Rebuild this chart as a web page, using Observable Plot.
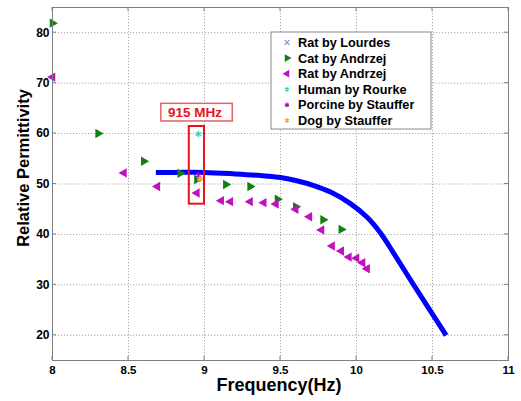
<!DOCTYPE html>
<html><head><meta charset="utf-8">
<script src="https://cdn.jsdelivr.net/npm/d3@7"></script>
<script src="https://cdn.jsdelivr.net/npm/@observablehq/plot@0.6"></script>
<style>body{margin:0;background:#fff} #chart svg{display:block}</style>
</head><body><div id="chart"></div>
<script>
// ---- data ----
const xTicks = [8, 8.5, 9, 9.5, 10, 10.5, 11];
const yTicks = [20, 30, 40, 50, 60, 70, 80];

const modelF = [8.68, 8.8, 9.0, 9.2, 9.4, 9.5, 9.6, 9.72, 9.83, 9.96, 10.07, 10.16, 10.24, 10.34, 10.47, 10.59];
const modelE = [52.3, 52.3, 52.3, 52.0, 51.6, 51.3, 50.7, 49.7, 48.4, 46.1, 43.4, 40.2, 36.5, 31.7, 25.6, 20.0];

const catAndrzejF = [8.0, 8.30, 8.60, 8.84, 8.95, 9.14, 9.30, 9.48, 9.60, 9.78, 9.90];
const catAndrzejE = [81.9, 60.0, 54.5, 52.1, 50.9, 49.9, 49.5, 47.0, 45.5, 42.9, 41.0];

const ratAndrzejF = [8.0, 8.47, 8.69, 8.95, 9.11, 9.17, 9.30, 9.39, 9.47, 9.60, 9.69, 9.77, 9.84, 9.90, 9.95, 10.0, 10.04, 10.07];
const ratAndrzejE = [71.2, 52.2, 49.5, 48.2, 46.7, 46.5, 46.5, 46.3, 46.05, 45.0, 43.5, 40.9, 37.7, 36.7, 35.5, 35.3, 34.4, 33.2];

const ratLourdesF = [8.955];
const ratLourdesE = [51.2];
const humanRourkeF = [8.96];
const humanRourkeE = [59.9];
const porcineStaufferF = [8.96];
const porcineStaufferE = [51.7];
const dogStaufferF = [8.97];
const dogStaufferE = [51.0];

const seriesNames = ["Rat by Lourdes", "Cat by Andrzej", "Rat by Andrzej", "Human by Rourke", "Porcine by Stauffer", "Dog by Stauffer"];
const seriesColors = ["#8a8ae6", "#118011", "#c010c0", "#3cc8c8", "#b010b0", "#f4a050"];

const highlightBox = {x1: 8.9, x2: 9.0, y1: 46.0, y2: 61.4};
const labelBox = {x1: 8.716, x2: 9.186, y1: 62.4, y2: 65.9, text: "915 MHz"};

// ---- build tables ----
const zip = (fs, es) => fs.map((f, i) => ({f, e: es[i]}));
const model = zip(modelF, modelE);
const cat = zip(catAndrzejF, catAndrzejE);
const ratA = zip(ratAndrzejF, ratAndrzejE);
const ratL = zip(ratLourdesF, ratLourdesE);
const human = zip(humanRourkeF, humanRourkeE);
const porc = zip(porcineStaufferF, porcineStaufferE);
const dog = zip(dogStaufferF, dogStaufferE);

const FONT = "Arial, 'Liberation Sans', sans-serif";

const chart = Plot.plot({
  width: 521, height: 401,
  marginLeft: 52, marginRight: 13, marginTop: 7, marginBottom: 41,
  style: {fontFamily: FONT, fontWeight: "bold", color: "#000", background: "#fff"},
  x: {domain: [8, 11]},
  y: {domain: [15, 85]},
  marks: [
    Plot.gridX(xTicks, {stroke: "#a8a8a8", strokeOpacity: 1, strokeDasharray: "1.2,1.8"}),
    Plot.gridY(yTicks, {stroke: "#a8a8a8", strokeOpacity: 1, strokeDasharray: "1.2,1.8"}),
    Plot.axisX(xTicks, {tickSize: 0, tickPadding: 5, fontSize: 11.5, fontWeight: "bold", label: null, tickFormat: d => String(d)}),
    Plot.axisY(yTicks, {tickSize: 0, tickPadding: 3, fontSize: 12, fontWeight: "bold", label: null}),
    Plot.line(model, {x: "f", y: "e", stroke: "#0000ff", strokeWidth: 5, curve: "catmull-rom", strokeLinecap: "butt"}),
    Plot.dot(ratL, {x: "f", y: "e", symbol: "times", r: 2.5, stroke: seriesColors[0], strokeWidth: 1}),
    Plot.dot(cat, {x: "f", y: "e", symbol: "triangle", rotate: 90, r: 3.5, fill: seriesColors[1], stroke: "none"}),
    Plot.dot(ratA, {x: "f", y: "e", symbol: "triangle", rotate: -90, r: 3.5, fill: seriesColors[2], stroke: "none"}),
    Plot.dot(human, {x: "f", y: "e", symbol: "asterisk", r: 3, stroke: seriesColors[3], strokeWidth: 1.3}),
    Plot.dot(porc, {x: "f", y: "e", symbol: "asterisk", r: 3, stroke: seriesColors[4], strokeWidth: 1.5}),
    Plot.dot(dog, {x: "f", y: "e", symbol: "asterisk", r: 3, stroke: seriesColors[5], strokeWidth: 1.6}),
    Plot.rect([highlightBox], {x1: "x1", x2: "x2", y1: "y1", y2: "y2", fill: "none", stroke: "#e8141c", strokeWidth: 2}),
    Plot.rect([labelBox], {x1: "x1", x2: "x2", y1: "y1", y2: "y2", fill: "#fff", stroke: "#e86060", strokeWidth: 1.5}),
    Plot.text([labelBox], {x: d => (d.x1 + d.x2) / 2, y: d => (d.y1 + d.y2) / 2, text: "text", fill: "#e8141c", fontSize: 13.5, fontWeight: "bold", textAnchor: "middle", dx: -2}),
    Plot.frame({stroke: "#808080", strokeWidth: 1})
  ]
});

const svg = d3.select(chart);
const sx = chart.scale("x"), sy = chart.scale("y");
const L = 52, R = 521 - 13, T = 7, B = 401 - 41;

// inward tick marks (Matlab style)
const tk = svg.append("g").attr("stroke", "#808080").attr("stroke-width", 1);
xTicks.forEach(v => {
  const x = sx.apply(v);
  tk.append("line").attr("x1", x).attr("x2", x).attr("y1", B).attr("y2", B - 4);
  tk.append("line").attr("x1", x).attr("x2", x).attr("y1", T).attr("y2", T + 4);
});
yTicks.forEach(v => {
  const y = sy.apply(v);
  tk.append("line").attr("x1", L).attr("x2", L + 4).attr("y1", y).attr("y2", y);
  tk.append("line").attr("x1", R).attr("x2", R - 4).attr("y1", y).attr("y2", y);
});

// legend
const lg = svg.append("g").attr("font-family", FONT).attr("font-weight", "bold").attr("text-anchor", "start");
lg.append("rect").attr("x", 271).attr("y", 32).attr("width", 160).attr("height", 97)
  .attr("fill", "#fff").attr("stroke", "#888").attr("stroke-width", 1);
const sym = [d3.symbolTimes, d3.symbolTriangle, d3.symbolTriangle, d3.symbolAsterisk, d3.symbolAsterisk, d3.symbolAsterisk];
const rot = [0, 90, -90, 0, 0, 0];
const filled = [false, true, true, false, false, false];
seriesNames.forEach((name, i) => {
  const y = 42.5 + i * 15.6;
  const p = lg.append("path").attr("d", d3.symbol(sym[i], filled[i] ? 26 : 16)())
    .attr("transform", `translate(287,${y}) rotate(${rot[i]})`);
  if (filled[i]) p.attr("fill", seriesColors[i]);
  else p.attr("fill", "none").attr("stroke", seriesColors[i]).attr("stroke-width", 1.2);
  lg.append("text").attr("x", 298).attr("y", y).attr("dy", "0.36em").attr("text-anchor", "start")
    .attr("font-size", 12.7).attr("fill", "#000").text(name);
});

// axis titles
svg.append("text").attr("x", 279).attr("y", 385).attr("dy", "0.36em").attr("text-anchor", "middle")
  .attr("font-family", FONT).attr("font-weight", "bold").attr("font-size", 18).attr("fill", "#000")
  .text("Frequency(Hz)");
svg.append("text").attr("transform", "translate(23,168) rotate(-90)").attr("dy", "0.36em").attr("text-anchor", "middle")
  .attr("font-family", FONT).attr("font-weight", "bold").attr("font-size", 16.5).attr("fill", "#000")
  .text("Relative Permittivity");

document.getElementById("chart").appendChild(chart);
</script>
</body></html>
